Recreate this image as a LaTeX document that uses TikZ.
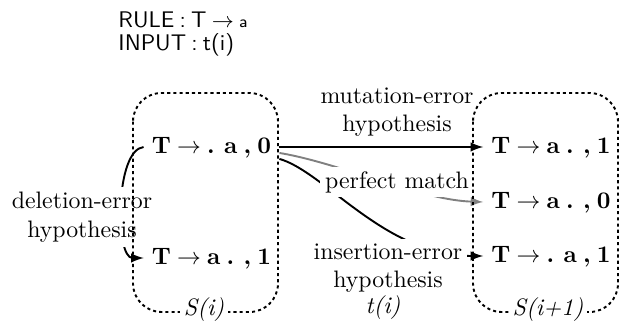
\documentclass[tikz,border=0pt]{standalone}
\usepackage{amsmath}
\usepackage{amssymb}
\usepackage{tikz}
\newcommand{\itemfont}{\bfseries\spaceskip 2.6pt\relax}
\newcommand{\rulefont}{\sffamily\fontsize{9.5}{11}\selectfont\spaceskip 2.2pt\relax}

\begin{document}
\begin{tikzpicture}[x=0.42pt,y=-0.42pt,>=latex,
        item/.style={font=\itemfont, text height=1.6ex, text depth=.4ex},
        lbl/.style={fill=white, align=center, inner sep=2pt},
        setbox/.style={thick, dash pattern=on 1.3pt off 1.3pt, rounded corners=12pt},
        setname/.style={fill=white, inner sep=1.5pt, font=\itshape}]
            \useasboundingbox (0,0) rectangle (621,323);

            \node[anchor=base west, font=\rulefont, inner sep=0pt] (rule) at (118,28) {RULE : T $\rightarrow$ {\scriptsize a}};
            \node[anchor=base west, font=\rulefont, inner sep=0pt] (input) at (118,51) {INPUT : t(i)};

            \node[item] (l0) at (211.5,147) {T $\rightarrow$ . a , 0};
            \node[item] (l1) at (211.5,258) {T $\rightarrow$ a . , 1};
            \node[item] (r1) at (551,147) {T $\rightarrow$ a . , 1};
            \node[item] (r2) at (551,202) {T $\rightarrow$ a . , 0};
            \node[item] (r3) at (551,256) {T $\rightarrow$ . a , 1};

            \draw[thick,->] (l0.east) -- (r1.west);
            \draw[thick,->,gray] ([yshift=-2.5pt]l0.east) .. controls (340,163) and (420,200) .. (r2.west);
            \draw[thick,->] ([yshift=-5pt]l0.east) .. controls (325,172) and (385,256) .. (r3.west);
            \draw[thick,->] (l0.west) .. controls (115,150) and (115,258) .. (l1.west);

            \node[lbl] (mut) at (397,112) {mutation-error\\hypothesis};
            \node[lbl] (perf) at (397,182) {perfect match};
            \node[lbl] (ins) at (388,268) {insertion-error\\hypothesis};
            \node[lbl] (del) at (82,217) {deletion-error\\hypothesis};

            \draw[setbox] (133,93) rectangle (278,312);
            \draw[setbox] (473,93) rectangle (618,312);
            \node[setname] (si) at (204,310) {S(i)};
            \node[setname] (ti) at (383,308) {t(i)};
            \node[setname] (sj) at (548,310) {S(i+1)};
        \end{tikzpicture}
\end{document}
